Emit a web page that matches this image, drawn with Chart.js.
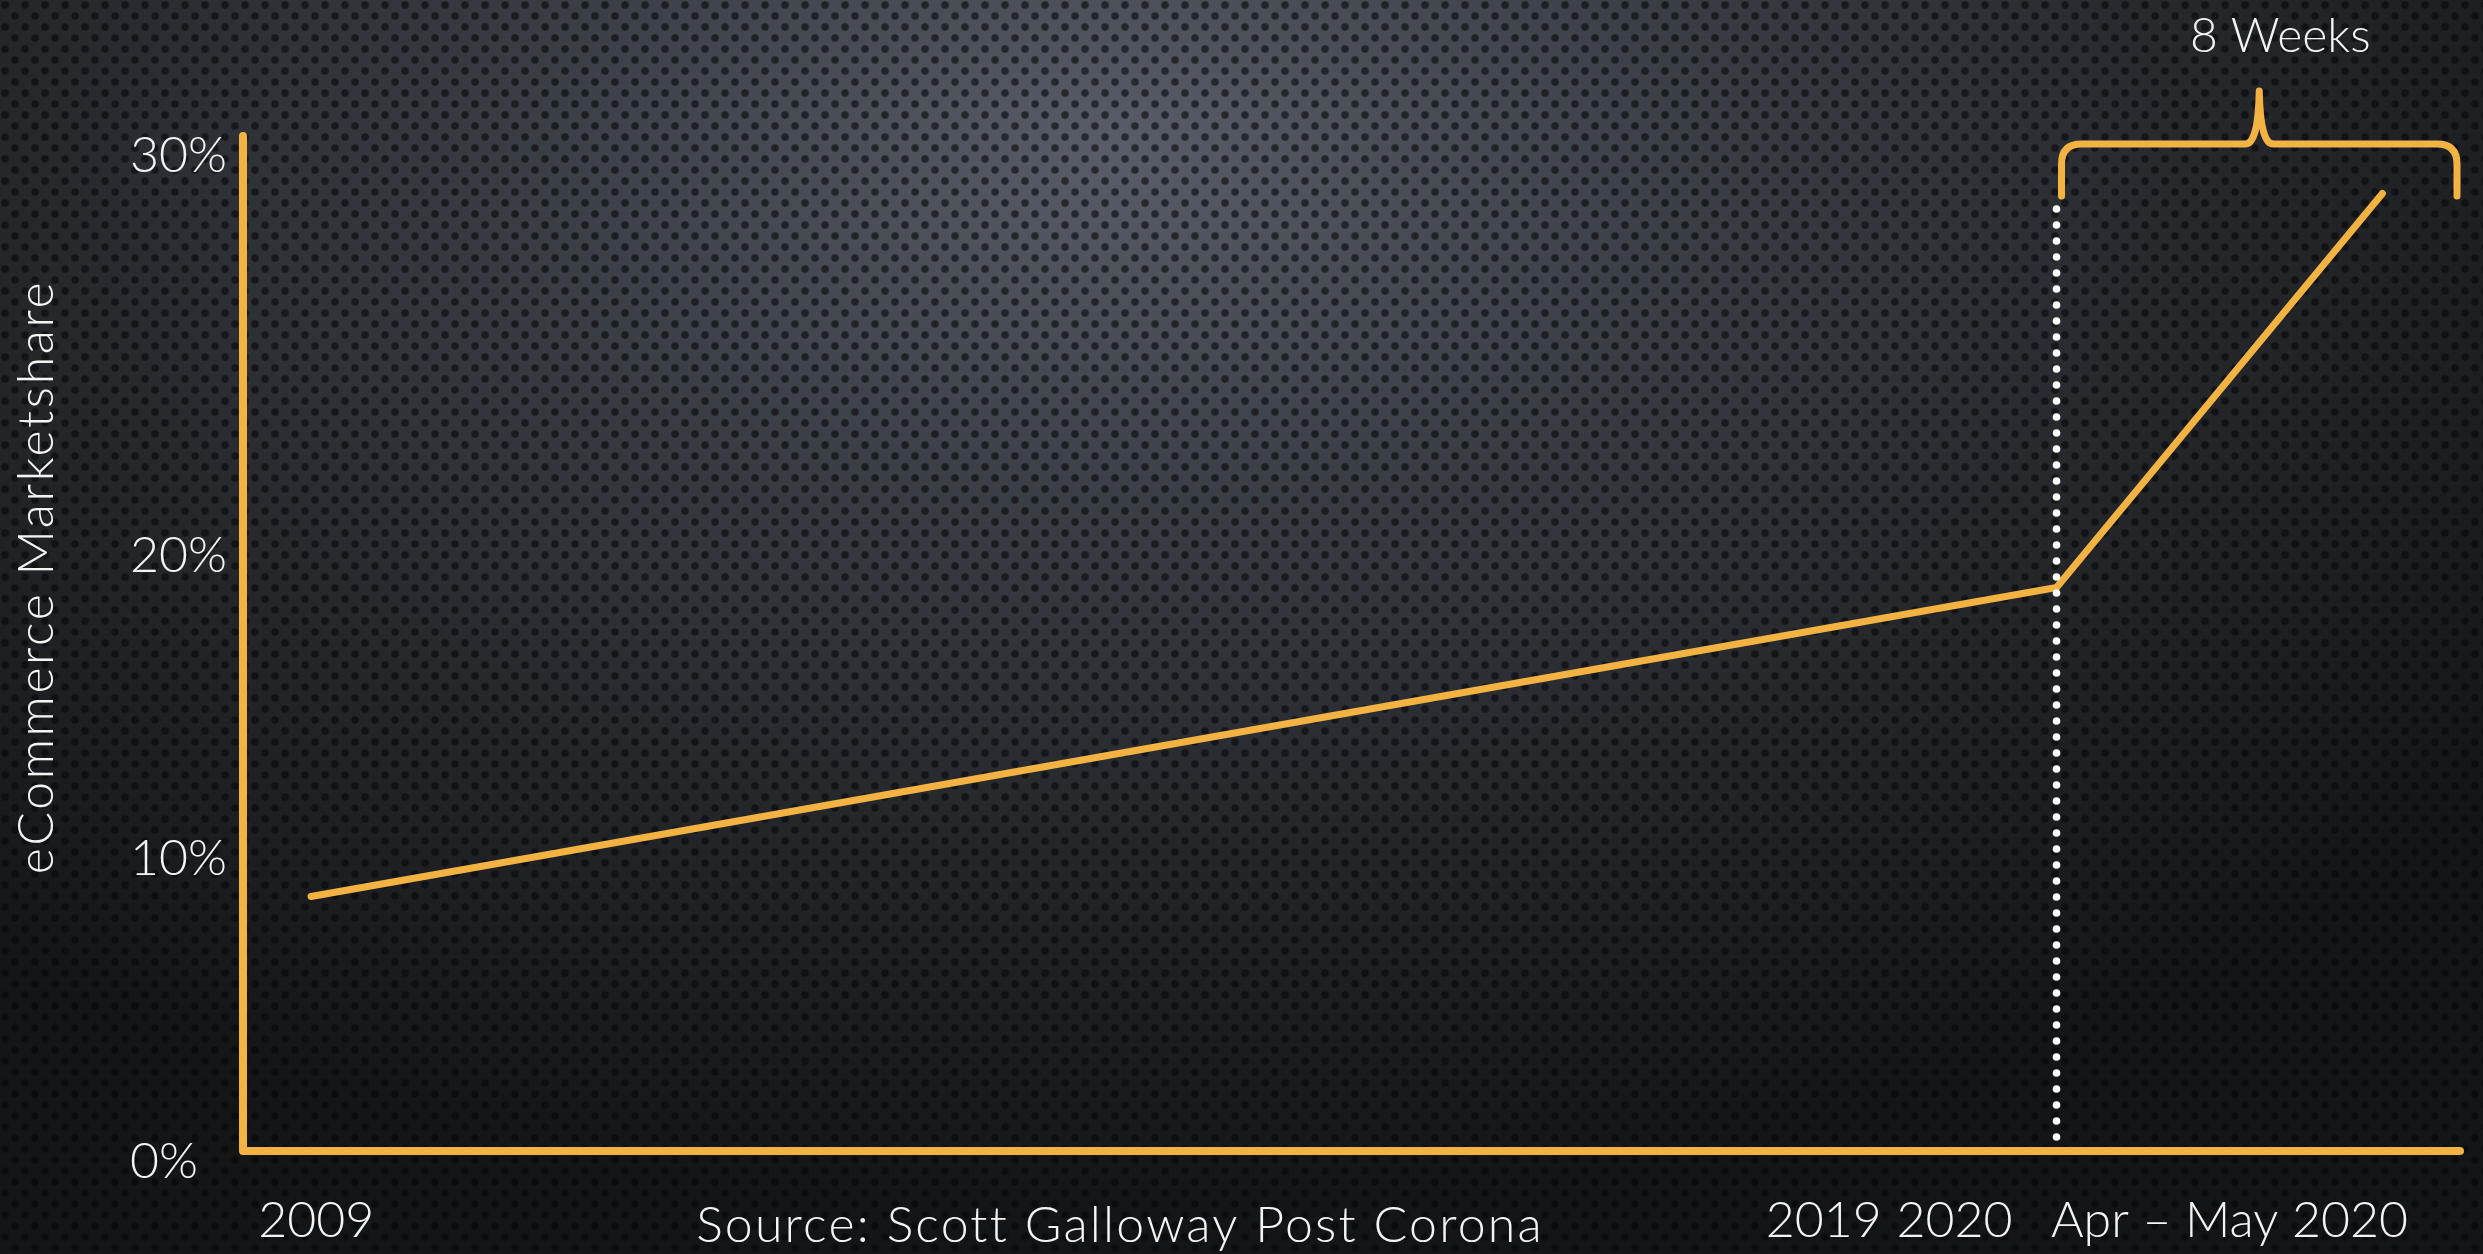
<!DOCTYPE html>
<html><head><meta charset="utf-8">
<script src="https://cdn.jsdelivr.net/npm/chart.js@4.4.1/dist/chart.umd.min.js"></script>
<style>
html,body{margin:0;padding:0;width:2483px;height:1254px;overflow:hidden;}
body{background:
 radial-gradient(circle at 5px 5px, rgba(6,7,10,0.6) 0, rgba(6,7,10,0.6) 3px, rgba(6,7,10,0) 4.6px) 0 0/20px 22px,
 radial-gradient(circle at 15px 16px, rgba(6,7,10,0.6) 0, rgba(6,7,10,0.6) 3px, rgba(6,7,10,0) 4.6px) 0 0/20px 22px,
 radial-gradient(ellipse 70% 85% at 45% 12%, #585d67 0%, #3a3e45 33%, #24262a 65%, #141517 100%);}
canvas{display:block}
</style></head>
<body><canvas id="c" width="2483" height="1254"></canvas>
<script>
// ---- data ----
const categories = ['2009', '2020', 'Apr – May 2020'];
const timelinePos = [3.07, 81.8, 96.5];      // position on the stylised timeline (0–100)
const shareValues = [8.4, 18.6, 31.6];        // eCommerce share, %
const yTickValues = [0, 10, 20, 33.2];
const yTickLabels = ['0%', '10%', '20%', '30%'];
const xTickValues = [3.3, 71.3, 77.2, 89.6];
const xTickLabels = ['2009', '2019', '2020', 'Apr – May 2020'];
const yAxisTitle = 'eCommerce Marketshare';
const sourceText = 'Source: Scott Galloway Post Corona';
const braceLabel = '8 Weeks';

// ---- style ----
const ORANGE = '#f2b343';
const TEXT = '#f4f4f4';
const FAMILY = "'Lato', 'Open Sans', sans-serif";
const FS = 50;
const fontStr = `300 ${FS}px ${FAMILY}`;

const canvas = document.getElementById('c');
const mctx = canvas.getContext('2d');
mctx.font = fontStr;
const widest = Math.max(...yTickLabels.map(t => mctx.measureText(t).width));
const Y_AXIS_W = 113;

const decor = {
  id: 'decor',
  beforeDatasetsDraw(chart) {
    const {ctx, chartArea: a} = chart;
    ctx.save();
    ctx.strokeStyle = ORANGE; ctx.lineWidth = 8; ctx.lineCap = 'round'; ctx.lineJoin = 'round';
    ctx.beginPath();
    ctx.moveTo(a.left, a.top);
    ctx.lineTo(a.left, a.bottom);
    ctx.lineTo(a.right, a.bottom);
    ctx.stroke();
    ctx.restore();
  },
  afterDatasetsDraw(chart) {
    const {ctx, chartArea: a, scales: {x}} = chart;
    ctx.save();
    // dotted divider at the 2020 point
    const dx = x.getPixelForValue(timelinePos[1]);
    ctx.fillStyle = '#ffffff';
    for (let yy = a.bottom - 14; yy >= a.top + 70; yy -= 16) {
      ctx.beginPath(); ctx.arc(dx, yy, 3.8, 0, Math.PI * 2); ctx.fill();
    }
    // brace
    const L = dx + 5, R = a.right - 3, C = (L + R) / 2;
    const legB = a.top + 60, barY = a.top + 8, tipY = a.top - 45;
    ctx.strokeStyle = ORANGE; ctx.lineWidth = 7; ctx.lineCap = 'round'; ctx.lineJoin = 'round';
    ctx.beginPath();
    ctx.moveTo(L, legB);
    ctx.lineTo(L, barY + 20);
    ctx.quadraticCurveTo(L, barY, L + 20, barY);
    ctx.lineTo(C - 14, barY);
    ctx.quadraticCurveTo(C - 1, barY, C, tipY);
    ctx.quadraticCurveTo(C + 1, barY, C + 14, barY);
    ctx.lineTo(R - 20, barY);
    ctx.quadraticCurveTo(R, barY, R, barY + 20);
    ctx.lineTo(R, legB);
    ctx.stroke();
    // texts
    ctx.fillStyle = TEXT;
    ctx.font = `300 48px ${FAMILY}`;
    ctx.textAlign = 'center'; ctx.textBaseline = 'alphabetic';
    ctx.fillText(braceLabel, C + 21, 52);
    ctx.font = fontStr;
    ctx.letterSpacing = '2.2px';
    ctx.fillText(sourceText, 1120, 1242);
    ctx.translate(37, 577);
    ctx.rotate(-Math.PI / 2);
    ctx.textBaseline = 'middle';
    ctx.letterSpacing = '2.6px';
    ctx.fillText(yAxisTitle, 0, 0);
    ctx.restore();
  }
};

new Chart(canvas, {
  type: 'line',
  data: {
    labels: categories,
    datasets: [{
      label: 'eCommerce Marketshare',
      data: timelinePos.map((v, i) => ({x: v, y: shareValues[i]})),
      borderColor: ORANGE,
      borderWidth: 7,
      borderCapStyle: 'round',
      borderJoinStyle: 'miter',
      pointRadius: 0,
      tension: 0,
      fill: false,
      clip: false
    }]
  },
  options: {
    responsive: false,
    animation: false,
    devicePixelRatio: 1,
    layout: {padding: {left: 130, top: 136, right: 23, bottom: 0}},
    plugins: {legend: {display: false}, tooltip: {enabled: false}, title: {display: false}},
    scales: {
      x: {
        type: 'linear', min: 0, max: 100,
        grid: {display: false, drawTicks: false},
        border: {display: false},
        afterBuildTicks: s => { s.ticks = xTickValues.map(v => ({value: v})); },
        afterFit: s => { s.height = 103; },
        ticks: {
          autoSkip: false, maxRotation: 0, minRotation: 0, padding: 40,
          color: TEXT, font: {family: FAMILY, size: FS, weight: 300},
          callback: (v, i) => xTickLabels[i]
        }
      },
      y: {
        type: 'linear', min: 0, max: 33.5,
        grid: {display: false, drawTicks: false},
        border: {display: false},
        afterBuildTicks: s => { s.ticks = yTickValues.map(v => ({value: v})); },
        afterFit: s => { s.width = Y_AXIS_W; },
        ticks: {
          crossAlign: 'far', padding: Y_AXIS_W - widest, labelOffset: 11,
          color: TEXT, font: {family: FAMILY, size: FS, weight: 300},
          callback: (v, i) => yTickLabels[i]
        }
      }
    }
  },
  plugins: [decor]
});
</script>
</body></html>
